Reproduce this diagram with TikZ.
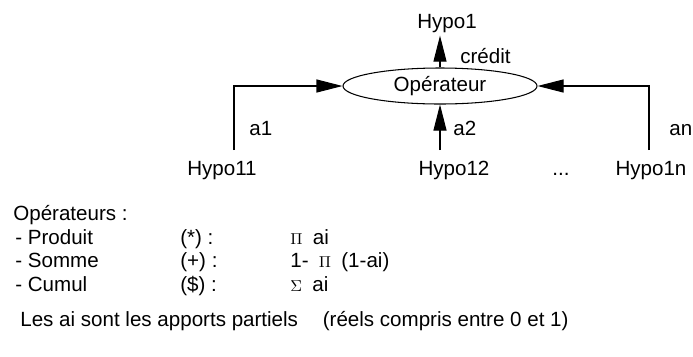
\documentclass[tikz,border=0pt]{standalone}
\usepackage{fontspec}
\setmainfont{Liberation Sans}
\usetikzlibrary{arrows.meta,positioning,shapes.geometric}

\begin{document}
\begin{tikzpicture}[
    font=\fontsize{11.7}{14}\selectfont,
    txt/.style={inner sep=0pt, anchor=base},
    leg/.style={inner sep=0pt, anchor=base west},
    oval/.style={ellipse, draw, semithick, minimum width=3.88cm, minimum height=0.72cm, inner sep=0pt},
    arrow/.style={-{Triangle[length=5.2mm, width=2.6mm]}, semithick}
]
\useasboundingbox (0,0) rectangle (13.86,-7.12);
\node[oval] (oper) at (8.8,-1.72) {Opérateur};
\node[txt] (hypo1) at (8.94,-0.56) {Hypo1};
\node[leg] (cred) at (9.2,-1.26) {crédit};
\node[txt] (hyp11) at (4.44,-3.5) {Hypo11};
\node[txt] (hyp12) at (9.08,-3.5) {Hypo12};
\node[txt] (dots) at (11.22,-3.5) {...};
\node[txt] (hyp1n) at (13.02,-3.5) {Hypo1n};
\node[leg] (a1) at (4.98,-2.7) {a1};
\node[leg] (a2) at (9.06,-2.7) {a2};
\node[leg] (an) at (13.38,-2.7) {an};
\coordinate (c11) at (4.68,-3.0);
\coordinate (c12) at (8.8,-3.0);
\coordinate (c1n) at (12.98,-3.0);
\draw[arrow, shorten >=0.06cm] (oper.north) -- (oper.north |- hypo1.south);
\draw[arrow] (c11) |- (oper.west);
\draw[arrow] (c12) -- (oper.south);
\draw[arrow] (c1n) |- (oper.east);

\node[leg] (ops) at (0.26,-4.4) {Opérateurs :};
\node[leg] (prod) at (0.3,-4.88) {- Produit};
\node[leg] (somm) at (0.3,-5.34) {- Somme};
\node[leg] (cumu) at (0.3,-5.82) {- Cumul};
\node[leg] (prodop) at (3.6,-4.88) {(*) :};
\node[leg] (sommop) at (3.6,-5.34) {(+) :};
\node[leg] (cumuop) at (3.6,-5.82) {(\$) :};
\node[leg] (prodf) at (5.8,-4.88) {{\fontsize{9}{9}\selectfont$\Pi$}\enspace ai};
\node[leg] (sommf) at (5.8,-5.34) {1-\enspace{\fontsize{9}{9}\selectfont$\Pi$}\enspace(1-ai)};
\node[leg] (cumuf) at (5.8,-5.82) {{\fontsize{9}{9}\selectfont$\Sigma$}\enspace ai};
\node[leg] (note) at (0.4,-6.52) {Les ai sont les apports partiels};
\node[leg] (reel) at (6.45,-6.52) {(réels compris entre 0 et 1)};
\end{tikzpicture}
\end{document}
